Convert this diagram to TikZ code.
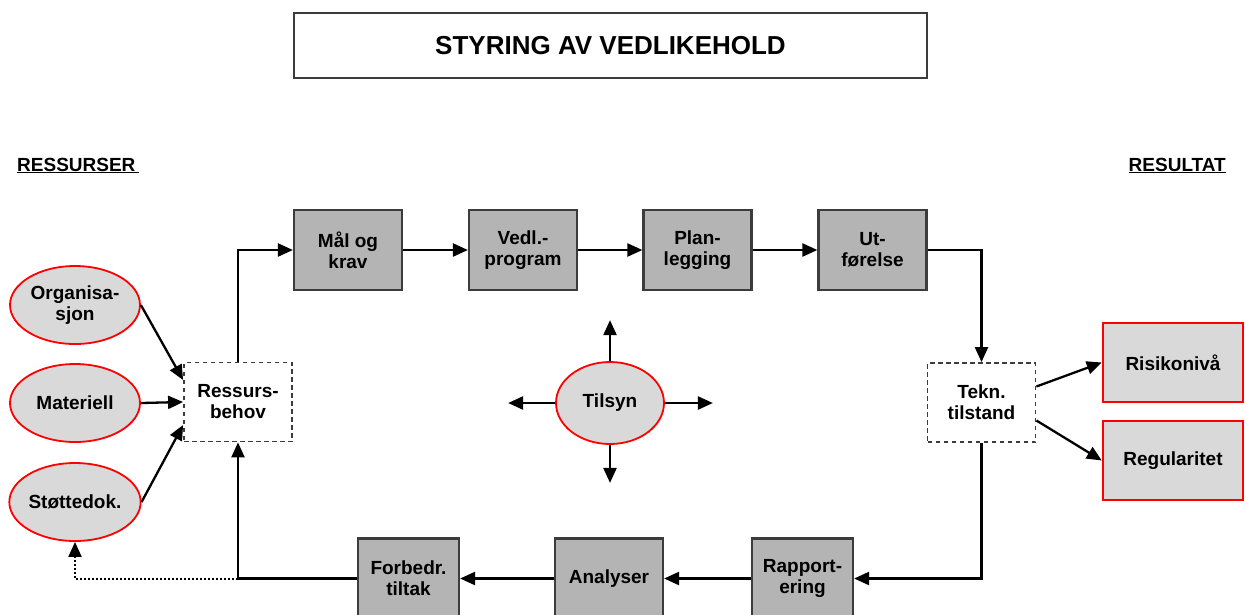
\documentclass[tikz,border=0pt]{standalone}
\usepackage{fontspec}
\setmainfont{Liberation Sans}
\usetikzlibrary{arrows.meta,shapes.geometric}
\definecolor{boxgray}{RGB}{180,180,180}
\definecolor{fillgray}{RGB}{217,217,217}
\definecolor{boxline}{RGB}{60,60,60}
\begin{document}
\begin{tikzpicture}[x=1pt,y=-1pt,
  txt/.style={font=\bfseries\fontsize{19}{21}\selectfont, align=center, text=black},
  pbox/.style={txt, draw=boxline, fill=boxgray, line width=2.2pt, minimum width=108pt, minimum height=80pt, inner sep=0pt},
  dbox/.style={txt, draw=boxline, fill=white, dash pattern=on 4.5pt off 3.5pt, line width=1.8pt, minimum width=108pt, minimum height=79pt, inner sep=0pt},
  rbox/.style={txt, draw=red, fill=fillgray, line width=2.4pt, minimum width=140pt, minimum height=79pt, inner sep=0pt},
  res/.style={txt, ellipse, draw=red, fill=fillgray, line width=1.8pt, minimum width=130pt, minimum height=78pt, inner sep=0pt},
  tip/.style={-{Triangle[length=15pt,width=13pt]}},
  arr/.style={line width=2.3pt, tip},
  ln/.style={line width=2.3pt},
  dotln/.style={line width=2pt, dash pattern=on 2pt off 2pt, tip}]
\clip (0,0) rectangle (1246,614);

% title and headings
\node[draw=boxline, line width=2.4pt, minimum width=633pt, minimum height=65pt, inner sep=0pt,
      font=\bfseries\fontsize{26}{30}\selectfont] (title) at (610.5,45.5) {STYRING AV VEDLIKEHOLD};
\node[txt, anchor=base west, inner sep=0pt] (ress) at (17,171) {\underline{RESSURSER\,}};
\node[txt, anchor=base east, inner sep=0pt] (resu) at (1226,171) {\underline{RESULTAT}};

% top row
\node[pbox] (m1) at (348,250) {Mål og\\krav};
\node[pbox] (m2) at (523,250) {Vedl.-\\program};
\node[pbox] (m3) at (697.5,250) {Plan-\\legging};
\node[pbox] (m4) at (872.5,250) {Ut-\\førelse};

% resources
\node[res] (o1) at (75,305) {Organisa-\\sjon};
\node[res] (o2) at (75,403) {Materiell};
\node[res] (o3) at (75,502) {Støttedok.};
\node[dbox] (rb) at (238,402) {Ressurs-\\behov};

% centre
\node[res, minimum width=108pt, minimum height=82pt] (t) at (610,403) {Tilsyn};

% right
\node[dbox] (tk) at (981.5,402.5) {Tekn.\\tilstand};
\node[rbox] (r1) at (1173,362.5) {Risikonivå};
\node[rbox] (r2) at (1173,460.5) {Regularitet};

% bottom row
\node[pbox, minimum width=101pt] (b1) at (802.5,578.5) {Rapport-\\ering};
\node[pbox] (b2) at (609,578.5) {Analyser};
\node[pbox, minimum width=101pt] (b3) at (408.5,578.5) {Forbedr.\\tiltak};

% connectors
\draw[arr] (rb.north) |- (m1.west);
\draw[arr] (m1.east) -- (m2.west);
\draw[arr] (m2.east) -- (m3.west);
\draw[arr] (m3.east) -- (m4.west);
\draw[arr] (m4.east) -| (tk.north);
\draw[arr] (tk.south) |- (b1.east);
\draw[arr] (b1.west) -- (b2.east);
\draw[arr] (b2.west) -- (b3.east);
\coordinate (j) at (238,578.5);
\draw[ln] (b3.west) -- (j);
\draw[arr] (j) -- (rb.south);
\draw[dotln] (j) -| (o3.south);

\draw[arr] (o1.east) -- ([yshift=22pt]rb.west);
\draw[arr] (o2.east) -- (rb.west);
\draw[arr] (o3.east) -- ([yshift=-23pt]rb.west);

\draw[arr] ([yshift=16pt]tk.east) -- (r1.west);
\draw[arr] ([yshift=-18pt]tk.east) -- (r2.west);

\draw[arr] (t.north) -- ++(0,-41);
\draw[arr] (t.south) -- ++(0,38);
\draw[arr] (t.west) -- ++(-47,0);
\draw[arr] (t.east) -- ++(48,0);
\end{tikzpicture}
\end{document}
